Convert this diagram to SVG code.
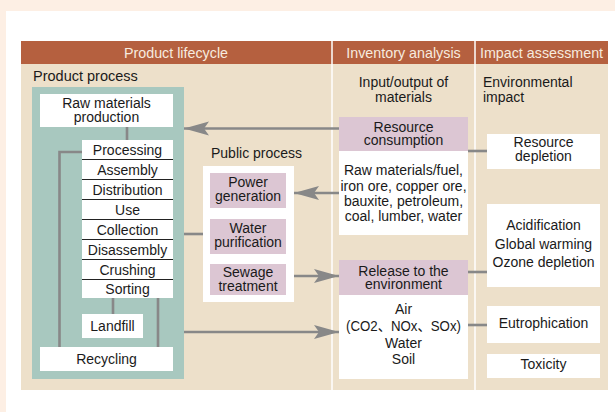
<svg xmlns="http://www.w3.org/2000/svg" width="615" height="412" viewBox="0 0 615 412">
<style>
text{font-family:"Liberation Sans",Arial,"Noto Sans CJK JP",sans-serif;font-size:14px;fill:#1a1a1a}
.c{text-anchor:middle}
.h{fill:#f7ebdf;font-size:14.3px}
.wb{fill:#fff}
.pk{fill:#dcc6d3}
.ln{stroke:#888;stroke-width:2.6;fill:none}
.sep{stroke:#222;stroke-width:1}
</style>
<defs>
<marker id="ah" markerUnits="userSpaceOnUse" markerWidth="30" markerHeight="20" viewBox="-26 -10 30 20" refX="0" refY="0" orient="auto">
<path d="M0,0 L-25,-7 L-20,0 L-25,7 Z" fill="#888"/>
</marker>
</defs>
<rect width="615" height="412" fill="#fdefe4"/>
<rect x="6" y="11" width="609" height="401" fill="#fff"/>
<g id="header">
<rect x="21" y="41" width="587" height="23" fill="#b5603f"/>
<rect x="21" y="64" width="587" height="326" fill="#ede0ca"/>
<line x1="332" y1="41" x2="332" y2="390" stroke="#fff" stroke-width="1.5"/>
<line x1="475" y1="41" x2="475" y2="390" stroke="#fff" stroke-width="1.5"/>
<text class="h c" x="176" y="57.5">Product lifecycle</text>
<text class="h c" x="403.5" y="57.5">Inventory analysis</text>
<text class="h c" x="541.5" y="57.5">Impact assessment</text>
<text x="33" y="81" style="font-size:14.5px">Product process</text>
<text class="c" x="403.5" y="87">Input/output of</text>
<text class="c" x="403.5" y="102">materials</text>
<text x="483" y="87">Environmental</text>
<text x="483" y="102">impact</text>
</g>
<g id="product-process">
<rect x="32" y="87" width="152" height="292" fill="#a8c8bf"/>
</g>
<g id="connectors">
<line class="ln" x1="127" y1="127" x2="127" y2="140"/>
<polyline class="ln" points="82,152 59.5,152 59.5,347"/>
<line class="ln" x1="158" y1="298" x2="158" y2="347"/>
<line class="ln" x1="113" y1="298" x2="113" y2="314"/>
<line class="ln" x1="339" y1="128.5" x2="184" y2="128.5" marker-end="url(#ah)"/>
<line class="ln" x1="339" y1="193" x2="294" y2="193" marker-end="url(#ah)"/>
<line class="ln" x1="294" y1="276" x2="339" y2="276" marker-end="url(#ah)"/>
<line class="ln" x1="184" y1="332" x2="339" y2="332" marker-end="url(#ah)"/>
<line class="ln" x1="184" y1="234" x2="203" y2="234"/>
<line class="ln" x1="468" y1="151" x2="487" y2="151"/>
<line class="ln" x1="468" y1="272" x2="487" y2="272"/>
<line class="ln" x1="468" y1="325" x2="487" y2="325"/>
</g>
<g id="raw-materials">
<rect class="wb" x="40" y="94" width="133" height="33"/>
<text class="c" x="106.5" y="108">Raw materials</text>
<text class="c" x="106.5" y="121.5">production</text>
</g>
<g id="process-stack">
<rect class="wb" x="82" y="140" width="91" height="158"/>
<line class="sep" x1="82" y1="159.5" x2="173" y2="159.5"/>
<line class="sep" x1="82" y1="179.5" x2="173" y2="179.5"/>
<line class="sep" x1="82" y1="199.5" x2="173" y2="199.5"/>
<line class="sep" x1="82" y1="219.5" x2="173" y2="219.5"/>
<line class="sep" x1="82" y1="239.5" x2="173" y2="239.5"/>
<line class="sep" x1="82" y1="259.5" x2="173" y2="259.5"/>
<line class="sep" x1="82" y1="279.5" x2="173" y2="279.5"/>
<text class="c" x="127.5" y="154.5">Processing</text>
<text class="c" x="127.5" y="174.5">Assembly</text>
<text class="c" x="127.5" y="194.5">Distribution</text>
<text class="c" x="127.5" y="214.5">Use</text>
<text class="c" x="127.5" y="234.5">Collection</text>
<text class="c" x="127.5" y="254.5">Disassembly</text>
<text class="c" x="127.5" y="274.5">Crushing</text>
<text class="c" x="127.5" y="294">Sorting</text>
</g>
<g id="landfill">
<rect class="wb" x="82" y="314" width="61" height="24"/>
<text class="c" x="112.5" y="331">Landfill</text>
</g>
<g id="recycling">
<rect class="wb" x="40" y="347" width="133" height="24"/>
<text class="c" x="106.5" y="364">Recycling</text>
</g>
<g id="public-process">
<text x="211" y="158">Public process</text>
<rect class="wb" x="203" y="166" width="91" height="136"/>
</g>
<g id="power">
<rect class="pk" x="210" y="173" width="76" height="35"/>
<text class="c" x="248" y="187">Power</text>
<text class="c" x="248" y="200.5">generation</text>
</g>
<g id="water">
<rect class="pk" x="210" y="219" width="76" height="35"/>
<text class="c" x="248" y="233">Water</text>
<text class="c" x="248" y="247">purification</text>
</g>
<g id="sewage">
<rect class="pk" x="210" y="264" width="76" height="31"/>
<text class="c" x="248" y="277">Sewage</text>
<text class="c" x="248" y="291">treatment</text>
</g>
<g id="resource">
<rect class="pk" x="339" y="117" width="129" height="34"/>
<rect class="wb" x="339" y="151" width="129" height="84"/>
<text class="c" x="403.5" y="131.5">Resource</text>
<text class="c" x="403.5" y="145">consumption</text>
<text class="c" x="403.5" y="175">Raw materials/fuel,</text>
<text class="c" x="403.5" y="190.5">iron ore, copper ore,</text>
<text class="c" x="403.5" y="206">bauxite, petroleum,</text>
<text class="c" x="403.5" y="221">coal, lumber, water</text>
</g>
<g id="release">
<rect class="pk" x="339" y="260" width="129" height="35"/>
<rect class="wb" x="339" y="295" width="129" height="84"/>
<text class="c" x="403.5" y="275.5">Release to the</text>
<text class="c" x="403.5" y="289">environment</text>
<text class="c" x="403.5" y="314">Air</text>
<text class="c" x="403.5" y="331" textLength="115" lengthAdjust="spacingAndGlyphs">(CO2、NOx、SOx)</text>
<text class="c" x="403.5" y="348">Water</text>
<text class="c" x="403.5" y="364">Soil</text>
</g>
<g id="resource-depletion">
<rect class="wb" x="487" y="134" width="113" height="35"/>
<text class="c" x="543.5" y="147">Resource</text>
<text class="c" x="543.5" y="161">depletion</text>
</g>
<g id="acidification">
<rect class="wb" x="487" y="204" width="113" height="83"/>
<text class="c" x="543.5" y="230">Acidification</text>
<text class="c" x="543.5" y="249">Global warming</text>
<text class="c" x="543.5" y="267">Ozone depletion</text>
</g>
<g id="eutrophication">
<rect class="wb" x="487" y="306" width="113" height="37"/>
<text class="c" x="543.5" y="328">Eutrophication</text>
</g>
<g id="toxicity">
<rect class="wb" x="487" y="354" width="113" height="24"/>
<text class="c" x="543.5" y="369">Toxicity</text>
</g>
</svg>
